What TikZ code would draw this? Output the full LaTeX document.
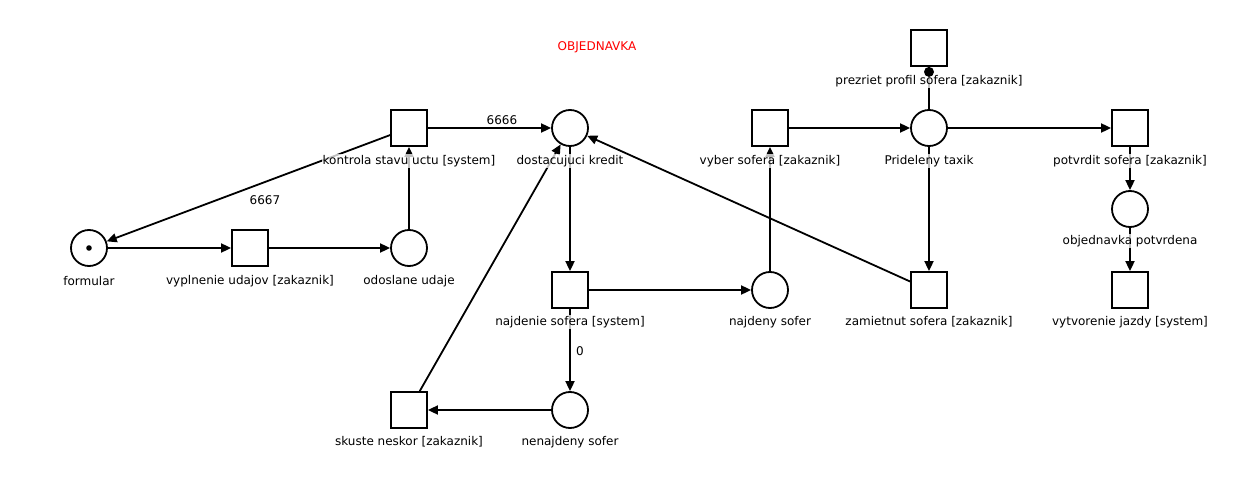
\documentclass[tikz,border=0pt]{standalone}
\usepackage{fontspec}
\setmainfont{DejaVu Sans}
\usetikzlibrary{arrows.meta}
\begin{document}
\begin{tikzpicture}[x=1pt,y=-1pt,
  trans/.style={draw,line width=1.8pt,minimum size=36pt,inner sep=0pt,fill=white},
  place/.style={draw,circle,line width=1.8pt,minimum size=36pt,inner sep=0pt,fill=white},
  arc/.style={line width=1.8pt,-{Triangle[length=10pt,width=9pt]}},
  lbl/.style={font=\fontsize{12}{14}\selectfont,fill=white,fill opacity=0.75,text opacity=1,inner sep=1pt}]
\useasboundingbox (0,0) rectangle (1240,484);
\node[font=\fontsize{12}{14}\selectfont,text=red] (title) at (597,47) {OBJEDNAVKA};
% transitions
\node[trans] (kontrola) at (409,128) {};
\node[trans] (vyplnenie) at (250,248) {};
\node[trans] (najdenie) at (570,290) {};
\node[trans] (skuste) at (409,410) {};
\node[trans] (vyber) at (770,128) {};
\node[trans] (prezriet) at (929,48) {};
\node[trans] (potvrdit) at (1130,128) {};
\node[trans] (zamietnut) at (929,290) {};
\node[trans] (vytvorenie) at (1130,290) {};
% places
\node[place] (formular) at (89,248) {};
\fill (formular.center) circle (2.8pt);
\node[place] (odoslane) at (409,248) {};
\node[place] (dostacujuci) at (570,128) {};
\node[place] (najdeny) at (770,290) {};
\node[place] (nenajdeny) at (570,410) {};
\node[place] (prideleny) at (929,128) {};
\node[place] (potvrdena) at (1130,209) {};
% arcs
\draw[arc] (kontrola) -- (formular);
\draw[arc] (formular) -- (vyplnenie);
\draw[arc] (vyplnenie) -- (odoslane);
\draw[arc] (odoslane) -- (kontrola);
\draw[arc] (kontrola) -- (dostacujuci);
\draw[arc] (dostacujuci) -- (najdenie);
\draw[arc] (najdenie) -- (najdeny);
\draw[arc] (najdenie) -- (nenajdeny);
\draw[arc] (nenajdeny) -- (skuste);
\draw[arc] (skuste) -- (dostacujuci);
\draw[arc] (najdeny) -- (vyber);
\draw[arc] (vyber) -- (prideleny);
\draw[arc] (prideleny) -- (potvrdit);
\draw[arc] (prideleny) -- (zamietnut);
\draw[arc] (zamietnut) -- (dostacujuci);
\draw[arc] (potvrdit) -- (potvrdena);
\draw[arc] (potvrdena) -- (vytvorenie);
\draw[line width=1.8pt] (prideleny.north) -- (prezriet.south);
% arc labels
\node[lbl] (w6667) at (265,200) {6667};
\node[lbl] (w6666) at (502,120) {6666};
\node[lbl] (w0) at (580,351) {0};
% node labels
\node[lbl] at (409,161) {kontrola stavu uctu [system]};
\node[lbl] at (250,281) {vyplnenie udajov [zakaznik]};
\node[lbl] at (570,322) {najdenie sofera [system]};
\node[lbl] at (409,442) {skuste neskor [zakaznik]};
\node[lbl] at (770,161) {vyber sofera [zakaznik]};
\node[lbl] at (929,81) {prezriet profil sofera [zakaznik]};
\node[lbl] at (1130,161) {potvrdit sofera [zakaznik]};
\node[lbl] at (929,322) {zamietnut sofera [zakaznik]};
\node[lbl] at (1130,322) {vytvorenie jazdy [system]};
\node[lbl] at (89,281) {formular};
\node[lbl] at (409,281) {odoslane udaje};
\node[lbl] at (570,161) {dostacujuci kredit};
\node[lbl] at (770,322) {najdeny sofer};
\node[lbl] at (570,442) {nenajdeny sofer};
\node[lbl] at (929,161) {Prideleny taxik};
\node[lbl] at (1130,241) {objednavka potvrdena};
% read-arc end dot (on top)
\fill (prezriet.south) ++(0,5) circle (5pt);
\end{tikzpicture}
\end{document}
